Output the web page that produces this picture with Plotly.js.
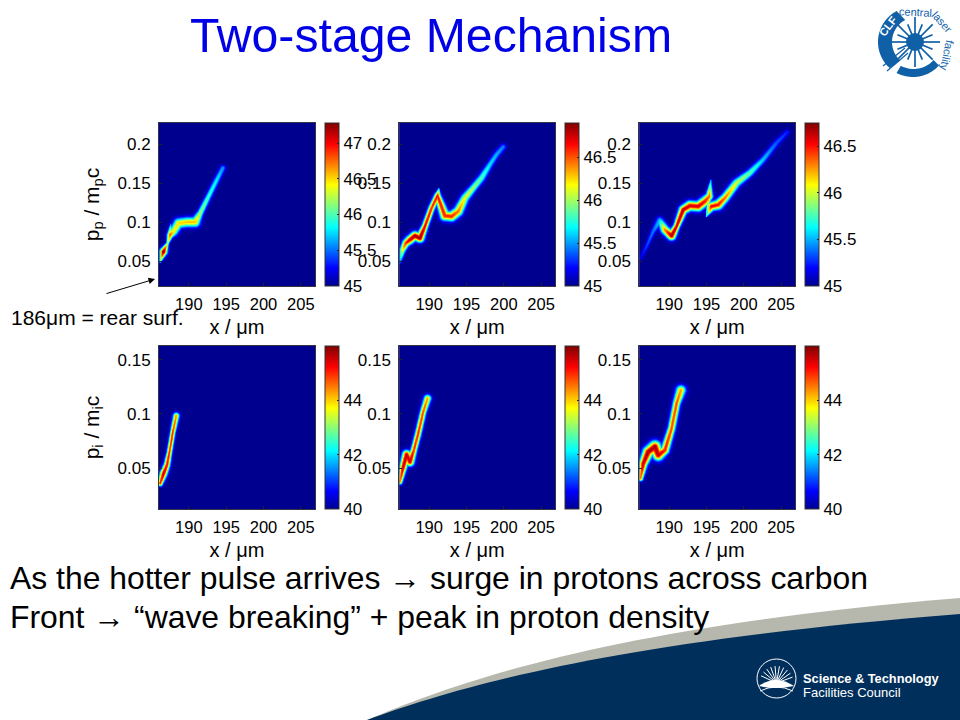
<!DOCTYPE html>
<html>
<head>
<meta charset="utf-8">
<script src="https://cdn.plot.ly/plotly-3.0.1.min.js"></script>
<style>html,body{margin:0;padding:0;background:#fff}#chart{width:960px;height:720px}</style>
</head>
<body>
<div id="chart"></div>
<script>
// ridge of each phase-space panel: x (um), p, peak log-density, half width (px)
const p1X=[186.13,186.58,187.12,187.47,187.55,187.47,187.92,188.59,189.7,190.82,191.49,192.6,193.72,194.52];
const p1Y=[0.050,0.0629,0.0736,0.0842,0.098,0.0842,0.0885,0.0992,0.1005,0.1005,0.112,0.1333,0.1547,0.1697];
const p1Z=[46.0,47.28,46.2,46.8,45.6,46.8,46.45,46.5,46.55,46.55,46.2,45.95,45.8,45.6];
const p1W=[1.2,3.5,1.5,3,1,3,4,4.5,4.5,4.5,3,2.8,2.8,2.8];
const p2X=[186.09,186.45,186.89,187.43,188.10,188.77,189.44,190.33,191.13,191.31,191.13,192.11,193.01,193.90,194.79,195.91,197.02,198.14,199.03,199.92];
const p2Y=[0.0489,0.0652,0.0737,0.0780,0.0831,0.0801,0.0951,0.1185,0.1343,0.1429,0.1343,0.1087,0.1079,0.1143,0.1313,0.1442,0.1570,0.1740,0.1869,0.1967];
const p2Z=[45.4,46.2,46.6,46.75,46.85,46.85,46.7,46.6,46.65,45.7,46.65,46.6,46.6,46.45,46.15,46.0,45.85,45.65,45.55,45.45];
const p2W=[1.5,3,3.5,4,4,4,3,3,3,1,3,4.5,4.5,4.5,4,3.5,3.5,3,3,3];
const p3X=[186.18,186.98,187.87,188.77,189.44,190.33,191.0,191.89,192.78,193.9,194.79,195.37,195.59,195.37,195.01,195.68,196.58,197.47,199.03,200.81,202.6,204.38,205.81];
const p3Y=[0.0545,0.0694,0.0886,0.1027,0.0908,0.0831,0.0951,0.1164,0.1215,0.1207,0.1271,0.1335,0.154,0.1335,0.1079,0.1207,0.1228,0.1313,0.1506,0.1634,0.1805,0.2018,0.2155];
const p3Z=[45.15,45.3,45.4,45.55,46.3,46.7,46.6,46.65,46.6,46.6,46.5,46.35,45.5,46.4,45.6,46.55,46.5,46.35,46.0,45.8,45.55,45.35,45.25];
const p3W=[2,2,2.5,3.5,4,4,3,4,4.5,4.5,4.5,3.5,1,2,1,4,4.5,4,4,3.5,3,3,2.5];
const p4X=[186.13,186.58,187.03,187.38,187.83,188.28];
const p4Y=[0.0362,0.0454,0.0531,0.0654,0.0838,0.0985];
const p4Z=[45,45.6,45.2,45,45,44.3];
const p4W=[2.5,3.5,3,2.5,2.5,3];
const p5X=[186.09,186.54,186.98,187.43,187.96,188.54,189.21,189.79];
const p5Y=[0.0377,0.0515,0.0629,0.0561,0.0669,0.0822,0.1022,0.1145];
const p5Z=[44.5,45.6,45.6,45.6,45,45,44.8,44.3];
const p5W=[2.5,3.5,4,4,3,3,3,3.5];
const p6X=[186.18,186.54,187.2,188.1,188.54,189.44,190.33,191.0,191.58];
const p6Y=[0.0408,0.0546,0.0653,0.0700,0.0623,0.0669,0.0868,0.1099,0.1221];
const p6Z=[44.5,45.6,45.8,45.8,45.6,45.1,44.8,44.8,44.3];
const p6W=[2.5,4,5,5.5,5,4,3.5,3.5,4.5];

const plotLefts=[159,399.3,639.3];
const rows=[{top:123,bottom:286,yrange:[0.0186,0.227],yticks:[0.05,0.1,0.15,0.2],pxY:780},
            {top:346,bottom:509,yrange:[0.0125,0.1626],yticks:[0.05,0.1,0.15],pxY:1086}];
const xRange=[186,206.9];
const xTicks=[190,195,200,205];
const cbRanges=[[45,47.28],[45,46.9],[45,46.75],[40,46],[40,46],[40,46]];
const cbTicks=[[45,45.5,46,46.5,47],[45,45.5,46,46.5],[45,45.5,46,46.5],[40,42,44],[40,42,44],[40,42,44]];
const yLabels=['p<sub>p</sub> / m<sub>p</sub>c','','','p<sub>i</sub> / m<sub>i</sub>c','',''];
const ridges=[[p1X,p1Y,p1Z,p1W],[p2X,p2Y,p2Z,p2W],[p3X,p3Y,p3Z,p3W],[p4X,p4Y,p4Z,p4W],[p5X,p5Y,p5Z,p5W],[p6X,p6Y,p6Z,p6W]];
const jet=[[0,'#00008f'],[0.11,'#0000ff'],[0.36,'#00ffff'],[0.62,'#ffff00'],[0.87,'#ff0000'],[1,'#800000']];
const FONT='"Liberation Sans", Arial, sans-serif';
const pxPerUm=156/(xRange[1]-xRange[0]);

// rasterise one ridge to the density table the heatmap needs
function table(r,range,zmin,pxY){
  const [rx,ry,rz,rw]=r;
  const nx=312,ny=326,xs=[],ys=[],z=[];
  for(let i=0;i<nx;i++)xs.push(xRange[0]+(i+0.5)*(xRange[1]-xRange[0])/nx);
  for(let j=0;j<ny;j++){ys.push(range[0]+(j+0.5)*(range[1]-range[0])/ny);z.push(new Array(nx).fill(zmin));}
  for(let k=0;k<rx.length-1;k++){
    const dxp=(rx[k+1]-rx[k])*pxPerUm,dyp=(ry[k+1]-ry[k])*pxY;
    const n=Math.max(2,Math.ceil(Math.hypot(dxp,dyp)));
    for(let s=0;s<=n;s++){
      const t=s/n,cx=rx[k]+t*(rx[k+1]-rx[k]),cy=ry[k]+t*(ry[k+1]-ry[k]);
      const pk=rz[k]+t*(rz[k+1]-rz[k]),w=rw[k]+t*(rw[k+1]-rw[k]);
      const ci=(cx-xRange[0])/(xRange[1]-xRange[0])*nx,cj=(cy-range[0])/(range[1]-range[0])*ny;
      for(let j=Math.max(0,Math.floor(cj-24));j<Math.min(ny,cj+24);j++){
        for(let i=Math.max(0,Math.floor(ci-24));i<Math.min(nx,ci+24);i++){
          const d=Math.hypot((xs[i]-cx)*pxPerUm,(ys[j]-cy)*pxY);
          const v=zmin+(pk-zmin)*Math.exp(-d*d/(w*w));
          if(v>z[j][i])z[j][i]=v;
        }
      }
    }
  }
  return {x:xs,y:ys,z:z};
}

const data=[],layout={
  width:960,height:720,margin:{l:0,r:0,t:0,b:0},paper_bgcolor:'#fff',plot_bgcolor:'#00008f',
  font:{family:FONT,size:17,color:'#000'},showlegend:false,shapes:[],annotations:[]
};
for(let p=0;p<6;p++){
  const col=p%3,row=rows[p<3?0:1],suffix=p===0?'':String(p+1);
  const left=plotLefts[col];
  const t=table(ridges[p],row.yrange,cbRanges[p][0],row.pxY);
  data.push({type:'heatmap',x:t.x,y:t.y,z:t.z,zmin:cbRanges[p][0],zmax:cbRanges[p][1],zsmooth:false,
    colorscale:jet,xaxis:'x'+suffix,yaxis:'y'+suffix,hoverinfo:'skip',
    colorbar:{x:(left+165.7)/960,xanchor:'left',xpad:0,ypad:0,y:1-row.bottom/720,yanchor:'bottom',
      len:(row.bottom-row.top)/720,lenmode:'fraction',thickness:14,thicknessmode:'pixels',
      tickvals:cbTicks[p],ticktext:cbTicks[p].map(String),ticks:'inside',ticklen:2,tickcolor:'#222',
      tickfont:{family:FONT,size:17,color:'#000'},outlinecolor:'#333',outlinewidth:1,borderwidth:0,ticklabelposition:'outside'}});
  layout['xaxis'+suffix]={domain:[left/960,(left+156)/960],range:xRange,tickvals:xTicks,ticktext:xTicks.map(String),
    anchor:'y'+suffix,ticks:'inside',ticklen:3,tickcolor:'#222',ticklabelstandoff:3,showgrid:false,zeroline:false,showline:true,linecolor:'#334',linewidth:1,mirror:true,
    tickfont:{family:FONT,size:16.5,color:'#000'},title:{text:'x / μm',font:{family:FONT,size:20,color:'#000'},standoff:8},automargin:false};
  layout['yaxis'+suffix]={domain:[1-row.bottom/720,1-row.top/720],range:row.yrange,tickvals:row.yticks,ticktext:row.yticks.map(String),
    anchor:'x'+suffix,ticks:'inside',ticklen:3,tickcolor:'#222',ticklabelstandoff:4,showgrid:false,zeroline:false,showline:true,linecolor:'#334',linewidth:1,mirror:true,
    tickfont:{family:FONT,size:17,color:'#000'},title:{text:yLabels[p],font:{family:FONT,size:21,color:'#000'},standoff:12},automargin:false};
}

// page furniture, in pixels of the 960x720 slide
const fx=x=>x/960,fy=y=>1-y/720;
const pathOf=pts=>'M'+pts.map(q=>fx(q[0]).toFixed(5)+','+fy(q[1]).toFixed(5)).join(' L')+' Z';
function curve(str){return str.replace(/(-?[\d.]+),(-?[\d.]+)/g,(m,a,b)=>fx(+a).toFixed(5)+','+fy(+b).toFixed(5));}
function paperShape(path,fill){return {type:'path',xref:'paper',yref:'paper',path:path,fillcolor:fill,line:{width:0},layer:'above'};}
layout.shapes.push(paperShape(curve('M367,720 C470,676 630,625 960,598 L960,720 Z'),'#b7b8ad'));
layout.shapes.push(paperShape(curve('M367,720 C470,682 630,640 960,614 L960,720 Z'),'#002f5b'));

const BLUE='#1060a8';
function crescent(cx,cy,ro,ri,cxi,a0,a1){
  const pts=[],N=40;
  for(let i=0;i<=N;i++){const a=(a0+(a1-a0)*i/N)*Math.PI/180;pts.push([cx+ro*Math.cos(a),cy+ro*Math.sin(a)]);}
  for(let i=N;i>=0;i--){const a=(a0+(a1-a0)*i/N)*Math.PI/180;pts.push([cxi+ri*Math.cos(a),cy+ri*Math.sin(a)]);}
  return pathOf(pts);
}
layout.shapes.push(paperShape(crescent(913,42,35,25,917,132,242),BLUE));
layout.shapes.push(paperShape(crescent(913,42,35,27,913.5,42,118),BLUE));
const rayAngles=[0,22.5,45,67.5,90,112.5,135,157.5,180,202.5,225,247.5,270,292.5,315,337.5];
rayAngles.forEach((a,i)=>{
  const r=a*Math.PI/180,len=i%2===0?25:19;
  layout.shapes.push({type:'line',xref:'paper',yref:'paper',layer:'above',
    x0:fx(915),y0:fy(42),x1:fx(915+len*Math.cos(r)),y1:fy(42+len*Math.sin(r)),line:{color:BLUE,width:1.7}});
});
layout.shapes.push({type:'circle',xref:'paper',yref:'paper',layer:'above',x0:fx(906),x1:fx(924),y0:fy(51),y1:fy(33),fillcolor:BLUE,line:{width:0}});
[[883,66,905,48],[887,71,908,53]].forEach(l=>layout.shapes.push({type:'line',xref:'paper',yref:'paper',layer:'above',
  x0:fx(l[0]),y0:fy(l[1]),x1:fx(l[2]),y1:fy(l[3]),line:{color:BLUE,width:1.2}}));
// council roundel
layout.shapes.push({type:'circle',xref:'paper',yref:'paper',layer:'above',x0:fx(757),x1:fx(796),y0:fy(698),y1:fy(659),fillcolor:'rgba(0,0,0,0)',line:{color:'#fff',width:1}});
[-80,-65,-50,-35,-20,-95,-110,-125,-140,-155].forEach(a=>{
  const r=a*Math.PI/180;
  layout.shapes.push({type:'line',xref:'paper',yref:'paper',layer:'above',x0:fx(776.5),y0:fy(683),x1:fx(776.5+17*Math.cos(r)),y1:fy(683+17*Math.sin(r)),line:{color:'#fff',width:1}});
});
layout.shapes.push({type:'path',xref:'paper',yref:'paper',layer:'above',path:curve('M759,686 Q776,674 794,686 Q776,690 759,686 Z'),fillcolor:'#fff',line:{width:0}});
layout.shapes.push({type:'path',xref:'paper',yref:'paper',layer:'above',path:curve('M760,691 Q776,683 793,691'),line:{color:'#fff',width:1}});

function text(x,y,s,size,color,opts){
  layout.annotations.push(Object.assign({xref:'paper',yref:'paper',x:fx(x),y:fy(y),text:s,showarrow:false,
    xanchor:'left',yanchor:'middle',font:{family:FONT,size:size,color:color}},opts||{}));
}
text(431,35,'Two-stage Mechanism',48.2,'#0000e6',{xanchor:'center'});
text(8,578,'As the hotter pulse arrives → surge in protons across carbon',31.9,'#000');
text(8,617,'Front → “wave breaking” + peak in proton density',31.9,'#000');
text(9,317,'186μm = rear surf.',21,'#000');
layout.annotations.push({xref:'paper',yref:'paper',axref:'pixel',ayref:'pixel',x:fx(155),y:fy(279),ax:-50,ay:15,text:'',
  showarrow:true,arrowhead:2,arrowsize:1.3,arrowwidth:1,arrowcolor:'#000'});
text(801,678,'<b>Science &amp; Technology</b>',12.8,'#fff');
text(801,692,'Facilities Council',13,'#fff');
text(888,26,'<b>CLF</b>',11,'#fff',{xanchor:'center',textangle:-52});
text(915,12,'central',11,BLUE,{xanchor:'center',textangle:3});
text(942,22,'laser',11,BLUE,{xanchor:'center',textangle:48});
text(947,55,'facility',11,BLUE,{xanchor:'center',textangle:102});

Plotly.newPlot('chart',data,layout,{displayModeBar:false,staticPlot:true});
</script>
</body>
</html>
